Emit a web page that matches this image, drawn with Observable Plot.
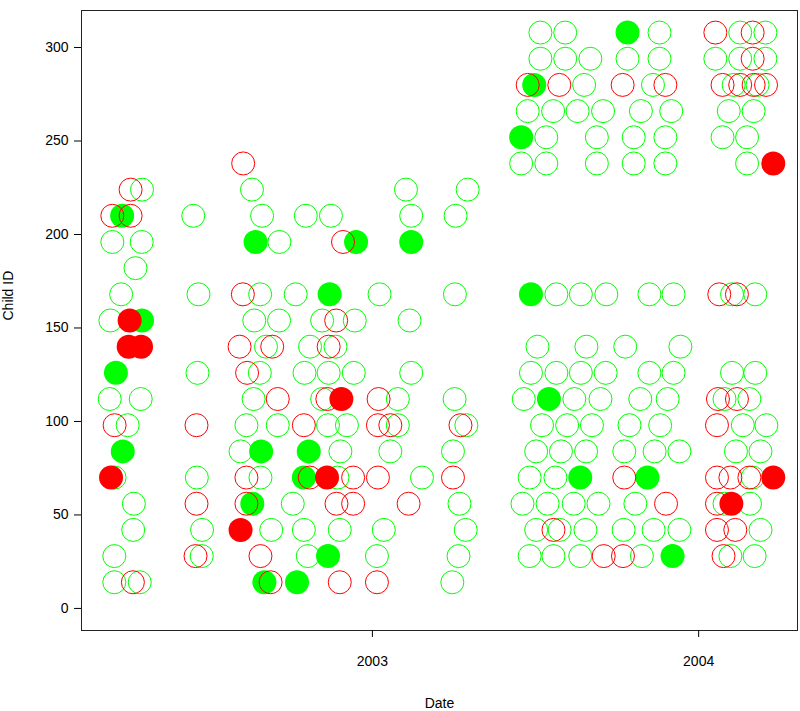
<!DOCTYPE html>
<html>
<head>
<meta charset="utf-8">
<script src="https://cdn.jsdelivr.net/npm/d3@7"></script>
<script src="https://cdn.jsdelivr.net/npm/@observablehq/plot@0.6"></script>
<style>
  html, body { margin: 0; padding: 0; background: #fff; }
  #chart svg { display: block; }
</style>
</head>
<body>
<div id="chart"></div>
<script>
// Visit date (decimal year) and Child ID, grouped by symbol
const greenOpen = [
  [2002.294,224],[2002.203,196],[2002.293,196],[2002.274,182],[2002.230,168],[2002.197,154],[2002.195,112],[2002.290,112],[2002.250,98],[2002.210,70],[2002.269,56],[2002.267,42],[2002.209,28],[2002.209,14],[2002.287,14],
  [2002.451,210],[2002.467,168],[2002.464,126],[2002.462,70],[2002.478,42],[2002.477,28],
  [2002.631,224],[2002.662,210],[2002.715,196],[2002.656,168],[2002.765,168],[2002.638,154],[2002.714,154],[2002.674,140],[2002.655,126],[2002.636,112],[2002.614,98],[2002.710,98],[2002.596,84],[2002.657,70],[2002.756,56],[2002.690,42],
  [2002.796,210],[2002.873,210],[2003.119,210],[2003.255,210],[2003.103,224],[2003.292,224],[2003.022,168],[2003.253,168],[2002.846,154],[2002.946,154],[2003.114,154],[2002.809,140],[2002.887,140],[2002.792,126],[2002.866,126],[2002.943,126],[2003.119,126],[2002.846,112],[2003.078,112],[2003.252,112],[2002.864,98],[2002.922,98],[2003.078,98],[2003.288,98],[2002.902,84],[2003.055,84],[2003.247,84],[2002.893,70],[2003.152,70],[2003.267,56],[2002.790,42],[2002.900,42],[2003.035,42],[2003.286,42],[2002.802,28],[2003.014,28],[2003.264,28],[2003.245,14],
  [2003.515,308],[2003.591,308],[2003.880,308],[2003.515,294],[2003.591,294],[2003.668,294],[2003.782,294],[2003.880,294],[2003.649,280],[2003.860,280],[2003.476,266],[2003.554,266],[2003.629,266],[2003.707,266],[2003.823,266],[2003.916,266],[2003.533,252],[2003.688,252],[2003.801,252],[2003.898,252],[2003.456,238],[2003.533,238],[2003.688,238],[2003.801,238],[2003.898,238],
  [2004.127,308],[2004.204,308],[2004.051,294],[2004.127,294],[2004.204,294],[2004.107,280],[2004.180,280],[2004.092,266],[2004.168,266],[2004.073,252],[2004.148,252],[2004.148,238],
  [2003.564,168],[2003.639,168],[2003.717,168],[2003.849,168],[2003.923,168],[2004.102,168],[2004.173,168],
  [2003.506,140],[2003.656,140],[2003.775,140],[2003.944,140],
  [2003.486,126],[2003.564,126],[2003.639,126],[2003.715,126],[2003.849,126],[2003.923,126],[2004.102,126],[2004.173,126],
  [2003.464,112],[2003.619,112],[2003.699,112],[2003.821,112],[2003.905,112],[2004.079,112],[2004.155,112],
  [2003.520,98],[2003.597,98],[2003.673,98],[2003.788,98],[2003.882,98],[2004.135,98],[2004.207,98],
  [2003.502,84],[2003.578,84],[2003.655,84],[2003.772,84],[2003.865,84],[2003.941,84],[2004.114,84],[2004.189,84],
  [2003.482,70],[2003.561,70],[2004.165,70],
  [2003.460,56],[2003.537,56],[2003.617,56],[2003.693,56],[2003.806,56],[2004.079,56],[2004.157,56],
  [2003.502,42],[2003.574,42],[2003.653,42],[2003.770,42],[2003.862,42],[2003.941,42],[2004.189,42],
  [2003.482,28],[2003.555,28],[2003.637,28],[2003.826,28],[2004.097,28],[2004.171,28]
];
const greenFilled = [
  [2002.233,210],[2002.294,154],[2002.214,126],[2002.235,84],[2002.642,196],[2002.659,84],[2002.632,56],[2002.669,14],[2002.769,14],
  [2002.950,196],[2003.119,196],[2002.869,168],[2002.805,84],[2002.790,70],[2002.864,28],
  [2003.782,308],[2003.496,280],[2003.456,252],[2003.486,168],[2003.541,112],[2003.637,70],[2003.843,70],[2003.920,28]
];
const redOpen = [
  [2002.203,210],[2002.259,210],[2002.259,224],[2002.210,98],[2002.266,14],
  [2002.461,98],[2002.461,56],[2002.458,28],
  [2002.604,238],[2002.603,168],[2002.593,140],[2002.693,140],[2002.616,126],[2002.710,112],[2002.614,70],[2002.614,56],[2002.657,28],[2002.688,14],
  [2002.910,196],[2002.889,154],[2002.866,140],[2002.862,112],[2003.019,112],[2002.790,98],[2003.017,98],[2003.055,98],[2003.270,98],[2002.808,70],[2002.941,70],[2003.017,70],[2003.247,70],[2002.890,56],[2002.941,56],[2003.111,56],[2002.900,14],[2003.014,14],
  [2003.476,280],[2003.573,280],[2003.767,280],[2003.898,280],[2004.051,308],[2004.165,308],[2004.165,294],[2004.073,280],[2004.127,280],[2004.168,280],[2004.206,280],
  [2004.063,168],[2004.117,168],[2004.059,112],[2004.117,112],[2004.056,98],[2003.772,70],[2004.056,70],[2004.097,70],[2004.155,70],[2003.900,56],[2004.056,56],[2003.555,42],[2004.056,42],[2004.112,42],[2003.709,28],[2003.768,28],[2004.076,28]
];
const redFilled = [
  [2002.256,154],[2002.253,140],[2002.291,140],[2002.199,70],[2002.596,42],[2002.905,112],[2002.861,70],[2004.228,238],[2004.228,70],[2004.100,56]
];
const yTicks = [0, 50, 100, 150, 200, 250, 300];
const xTickYears = [2003, 2004];

// decimal year -> Date (UTC)
function toDate(t) {
  const yr = Math.floor(t);
  const a = Date.UTC(yr, 0, 1), b = Date.UTC(yr + 1, 0, 1);
  return new Date(a + (t - yr) * (b - a));
}
const rows = arr => arr.map(([t, id]) => ({date: toDate(t), id}));

const GREEN = "#00ff00", RED = "#ff0000";
const R = 12;

const chart = Plot.plot({
  width: 800,
  height: 711,
  marginLeft: 81,
  marginRight: 3,
  marginTop: 10,
  marginBottom: 81,
  style: {fontFamily: "'Liberation Sans', Arial, sans-serif", fontSize: "14px", color: "#000", background: "#fff"},
  x: {type: "utc", domain: [toDate(2002.1085), toDate(2004.3021)]},
  y: {domain: [-11.8, 319.8]},
  marks: [
    Plot.dot(rows(greenOpen), {x: "date", y: "id", r: R - 0.5, stroke: GREEN, fill: "none", strokeWidth: 1}),
    Plot.dot(rows(greenFilled), {x: "date", y: "id", r: R, fill: GREEN, stroke: "none"}),
    Plot.dot(rows(redOpen), {x: "date", y: "id", r: R - 0.5, stroke: RED, fill: "none", strokeWidth: 1}),
    Plot.dot(rows(redFilled), {x: "date", y: "id", r: R, fill: RED, stroke: "none"}),
    Plot.frame({stroke: "#222", strokeWidth: 1}),
    Plot.axisY({ticks: yTicks, tickSize: 7, tickPadding: 6, label: null, fontSize: 14}),
    Plot.axisX({ticks: xTickYears.map(toDate), tickFormat: d3.utcFormat("%Y"), tickSize: 7, tickPadding: 19, label: null, fontSize: 14}),
    Plot.text(["Date"], {text: d => d, frameAnchor: "bottom", dy: 77, fontSize: 14}),
    Plot.text(["Child ID"], {text: d => d, frameAnchor: "left", dx: -73, rotate: -90, fontSize: 14})
  ]
});
document.getElementById("chart").appendChild(chart);
</script>
</body>
</html>
